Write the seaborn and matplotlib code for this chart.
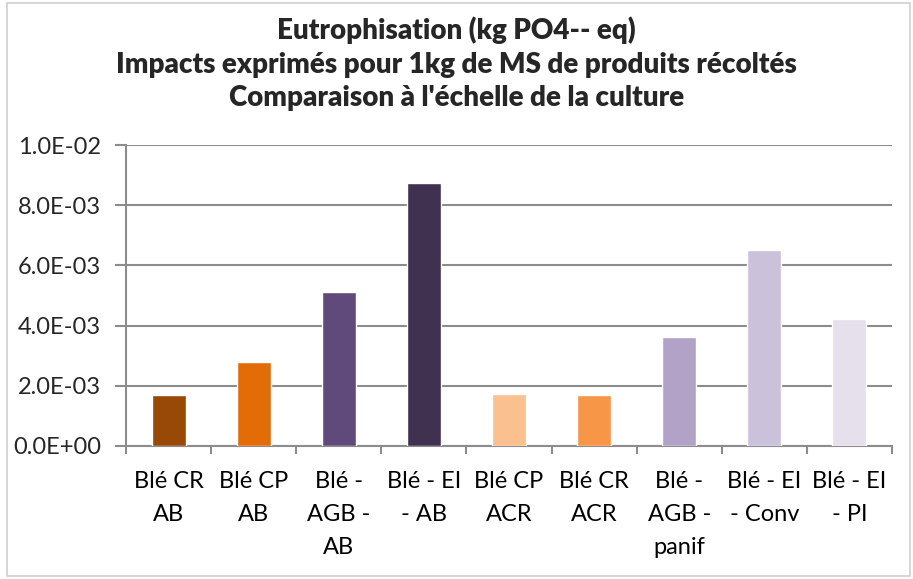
import matplotlib
matplotlib.use("Agg")
import matplotlib.pyplot as plt
import seaborn as sns
import pandas as pd
from matplotlib.patches import Rectangle
from matplotlib.ticker import FuncFormatter, MultipleLocator, FixedLocator

categories = ["Blé CR\nAB", "Blé CP\nAB", "Blé -\nAGB -\nAB", "Blé - EI\n- AB",
              "Blé CP\nACR", "Blé CR\nACR", "Blé -\nAGB -\npanif", "Blé - EI\n- Conv",
              "Blé - EI\n- PI"]
values = [1.70e-3, 2.80e-3, 5.12e-3, 8.74e-3, 1.73e-3, 1.70e-3, 3.62e-3, 6.51e-3, 4.22e-3]
colors = ["#984807", "#E36C09", "#604A7B", "#403151", "#FAC090", "#F79646",
          "#B2A2C7", "#CCC1DA", "#E5E0EC"]
title = ("Eutrophisation (kg PO4-- eq)\n"
         "Impacts exprimés pour 1kg de MS de produits récoltés\n"
         "Comparaison à l'échelle de la culture")

sns.set_theme(style="white")
plt.rcParams["font.family"] = ["Lato", "DejaVu Sans"]

df = pd.DataFrame({"cat": categories, "val": values})

fig = plt.figure(figsize=(9.13, 5.79), dpi=100)
ax = fig.add_axes([126 / 913, 1 - 446 / 579, (892 - 126) / 913, (446 - 145) / 579])

sns.barplot(data=df, x="cat", y="val", hue="cat", palette=colors, legend=False,
            width=0.4, saturation=1, ax=ax, zorder=3)

ax.set_ylim(0, 0.01)
ax.set_xlim(-0.5, len(categories) - 0.5)
ax.yaxis.set_major_locator(MultipleLocator(0.002))
ax.yaxis.set_major_formatter(FuncFormatter(lambda v, p: f"{v:.1E}"))
ax.grid(axis="y", color="#8C8C8C", linewidth=1.5, zorder=0)
ax.set_axisbelow(True)

for s in ["top", "right"]:
    ax.spines[s].set_visible(False)
for s in ["left", "bottom"]:
    ax.spines[s].set_color("#8C8C8C")
    ax.spines[s].set_linewidth(1.5)

ax.set_xlabel("")
ax.set_ylabel("")
ax.tick_params(axis="x", which="major", length=0, labelsize=17, pad=18, colors="black")
ax.xaxis.set_minor_locator(FixedLocator([i - 0.5 for i in range(len(categories) + 1)]))
ax.tick_params(axis="x", which="minor", length=6, width=1.5, color="#8C8C8C", direction="out", bottom=True)
ax.tick_params(axis="y", which="major", length=8, width=1.5, color="#8C8C8C", direction="out",
               labelsize=17, left=True, pad=10)
for lbl in ax.get_xticklabels():
    lbl.set_linespacing(1.7)

fig.text(0.5, 1 - 64 / 579, title, ha="center", va="center", fontsize=20,
         fontweight="heavy", linespacing=1.35)

fig.patches.append(Rectangle((7 / 913, 3 / 579), 903 / 913, 573 / 579, transform=fig.transFigure,
                             fill=False, edgecolor="#D0D0D0", linewidth=1.2))

fig.savefig("out.png", dpi=100)
